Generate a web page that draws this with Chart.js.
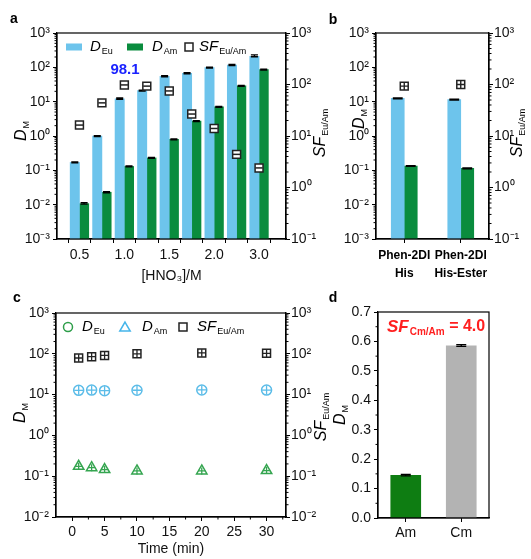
<!DOCTYPE html>
<html lang="en">
<head>
<meta charset="UTF-8">
<title>D_M and SF</title>
<script src="https://cdn.jsdelivr.net/npm/chart.js"></script>
<style>
  body { margin: 0; background: #fff; }
  .wrap { position: relative; width: 531px; height: 559px; }
  canvas { position: absolute; left: 0; top: 0; }
</style>
</head>
<body>
<div class="wrap">
  <canvas id="chartA" width="531" height="559"></canvas>
  <canvas id="chartB" width="531" height="559"></canvas>
  <canvas id="chartC" width="531" height="559"></canvas>
  <canvas id="chartD" width="531" height="559"></canvas>
</div>
<script>
// ---- panel a : D vs [HNO3] ----
const hno3Labels = ['0.5', '0.75', '1.0', '1.25', '1.5', '1.75', '2.0', '2.5', '3.0'];
const dEuA = [0.17, 1.0, 12, 21, 55, 67, 98, 117, 210];
const dEuAErr = [0.006, 0.03, 0.8, 0.8, 2.5, 2.5, 3, 4, 22];
const dAmA = [0.0107, 0.023, 0.13, 0.23, 0.8, 2.7, 7.1, 29, 86];
const dAmAErr = [0.0008, 0.0008, 0.005, 0.008, 0.02, 0.08, 0.2, 1, 3];
const sfA = [16.3, 44, 98.1, 93, 75, 26.7, 14, 4.4, 2.4];
const sfLabelA = '98.1';

// ---- panel b : ligands ----
const ligands = [['Phen-2DI', 'His'], ['Phen-2DI', 'His-Ester']];
const dEuB = [12.5, 11.5];
const dEuBErr = [0.4, 0.3];
const dAmB = [0.134, 0.115];
const dAmBErr = [0.004, 0.003];
const sfB = [93, 100];

// ---- panel c : kinetics ----
const times = [1, 3, 5, 10, 20, 30];
const dEuC = [12.7, 12.9, 12.5, 12.8, 13.0, 12.9];
const dAmC = [0.175, 0.162, 0.145, 0.135, 0.135, 0.137];
const sfC = [79, 85, 91, 100, 105, 103];

// ---- panel d : Am / Cm ----
const elements = ['Am', 'Cm'];
const dD = [0.145, 0.585];
const dDErr = [0.003, 0.004];
const sfCmAm = '4.0';

const BLUE = '#6dc4ec';
const GREEN = '#0a8c3e';
const FF = '"Liberation Sans", Arial, Helvetica, sans-serif';
const f = (size, style) => (style ? style + ' ' : '') + size + 'px ' + FF;

Chart.defaults.font.family = FF;
Chart.defaults.font.size = 14;
Chart.defaults.color = '#111';

const SUP = { '-': '⁻', '0': '⁰', '1': '¹', '2': '²', '3': '³' };
function pow10(v) {
  const e = Math.round(Math.log10(v));
  return '10' + String(e).split('').map(c => SUP[c]).join('');
}
function decades(lo, hi) {
  return s => {
    s.ticks = [];
    for (let e = lo; e <= hi; e++) s.ticks.push({ value: Math.pow(10, e) });
  };
}
function logMinor(lo, hi) {
  const out = [];
  for (let e = lo; e < hi; e++) for (let m = 2; m <= 9; m++) out.push(m * Math.pow(10, e));
  return out;
}
const grid = () => ({ drawOnChartArea: false, drawTicks: true, tickLength: 4, tickColor: '#000', tickWidth: 1 });
const border = { display: true, color: '#000', width: 1.2 };

function logAxis(pos, lo, hi) {
  return {
    type: 'logarithmic', position: pos, min: Math.pow(10, lo), max: Math.pow(10, hi),
    afterBuildTicks: decades(lo, hi),
    afterFit: s => { s.width = 40; },
    ticks: { callback: v => pow10(v), autoSkip: false, padding: pos === 'left' ? 3 : 1 },
    grid: grid(), border
  };
}

// rich text: italic main + subscript
function drawRich(ctx, t) {
  ctx.save();
  ctx.translate(t.x, t.y);
  if (t.rot) ctx.rotate(t.rot);
  let w = 0;
  t.parts.forEach(p => { ctx.font = p[1]; w += ctx.measureText(p[0]).width + (p[3] || 0); });
  let x = t.align === 'left' ? 0 : -w / 2;
  ctx.textBaseline = 'middle';
  ctx.textAlign = 'left';
  ctx.fillStyle = t.color || '#000';
  t.parts.forEach(p => {
    ctx.font = p[1];
    x += p[3] || 0;
    ctx.fillText(p[0], x, p[2] || 0);
    x += ctx.measureText(p[0]).width;
  });
  ctx.restore();
}

function drawMarker(ctx, m) {
  ctx.save();
  ctx.lineWidth = 1.5;
  ctx.strokeStyle = m.color;
  ctx.fillStyle = '#ffffff';
  ctx.beginPath();
  if (m.shape === 'bar') {
    ctx.fillStyle = m.color;
    ctx.fillRect(m.x, m.y - m.h / 2, m.w, m.h);
  } else if (m.shape === 'rect') {
    ctx.rect(m.x - m.r, m.y - m.r, 2 * m.r, 2 * m.r);
    ctx.fill(); ctx.stroke();
  } else if (m.shape === 'circle') {
    ctx.arc(m.x, m.y, m.r, 0, Math.PI * 2);
    ctx.fill(); ctx.stroke();
  } else if (m.shape === 'triangle') {
    ctx.moveTo(m.x, m.y - m.r);
    ctx.lineTo(m.x + m.r * 0.866, m.y + m.r * 0.5);
    ctx.lineTo(m.x - m.r * 0.866, m.y + m.r * 0.5);
    ctx.closePath();
    ctx.fill(); ctx.stroke();
  }
  ctx.restore();
}

const DM = (x, y) => ({ x, y, rot: -Math.PI / 2, parts: [['D', f(16, 'italic')], ['M', f(9), 5, 1]] });
const SFT = (x, y) => ({ x, y, rot: -Math.PI / 2, parts: [['SF', f(16, 'italic')], ['Eu/Am', f(9), 5, 1]] });

// extras per canvas: error bars, minor ticks, legends, labels
const DECOR = {
  chartA: {
    errors: { 2: dEuAErr, 3: dAmAErr },
    minor: [{ axis: 'y', values: logMinor(-3, 3) }, { axis: 'y2', values: logMinor(-1, 3) }],
    markers: [
      { shape: 'bar', x: 66, y: 47, w: 16, h: 7, color: BLUE },
      { shape: 'bar', x: 127, y: 47, w: 16, h: 7, color: GREEN },
      { shape: 'rect', x: 189, y: 47, r: 4, color: '#222' }
    ],
    texts: [
      { x: 14, y: 19, parts: [['a', f(14, 'bold')]] },
      DM(22, 131),
      SFT(321, 133),
      { x: 90, y: 47, align: 'left', parts: [['D', f(15, 'italic')], ['Eu', f(9), 5, 1]] },
      { x: 152, y: 47, align: 'left', parts: [['D', f(15, 'italic')], ['Am', f(9), 5, 1]] },
      { x: 199, y: 47, align: 'left', parts: [['SF', f(15, 'italic')], ['Eu/Am', f(9), 5, 1]] },
      { x: 125, y: 70, color: '#1a22ff', parts: [[sfLabelA, f(15, 'bold')]] }
    ]
  },
  chartB: {
    errors: { 2: dEuBErr, 3: dAmBErr },
    minor: [{ axis: 'y', values: logMinor(-3, 3) }, { axis: 'y2', values: logMinor(-1, 3) }],
    markers: [],
    texts: [
      { x: 333, y: 20, parts: [['b', f(14, 'bold')]] },
      DM(360, 119),
      SFT(518, 133)
    ]
  },
  chartC: {
    errors: {},
    minor: [
      { axis: 'y', values: logMinor(-2, 3) },
      { axis: 'y2', values: logMinor(-2, 3) },
      { axis: 'x', values: [2.5, 7.5, 12.5, 17.5, 22.5, 27.5, 32.5] }
    ],
    markers: [
      { shape: 'circle', x: 68, y: 327, r: 4.5, color: '#2e9e4a' },
      { shape: 'triangle', x: 125, y: 328, r: 6, color: '#45b5ea' },
      { shape: 'rect', x: 183, y: 327, r: 4, color: '#222' }
    ],
    texts: [
      { x: 17, y: 298, parts: [['c', f(14, 'bold')]] },
      DM(21, 413),
      SFT(322, 417),
      { x: 82, y: 327, align: 'left', parts: [['D', f(15, 'italic')], ['Eu', f(9), 5, 1]] },
      { x: 142, y: 327, align: 'left', parts: [['D', f(15, 'italic')], ['Am', f(9), 5, 1]] },
      { x: 197, y: 327, align: 'left', parts: [['SF', f(15, 'italic')], ['Eu/Am', f(9), 5, 1]] }
    ]
  },
  chartD: {
    errors: { 0: dDErr },
    minor: [{ axis: 'y', values: [0.05, 0.15, 0.25, 0.35, 0.45, 0.55, 0.65] }],
    markers: [],
    texts: [
      { x: 333, y: 298, parts: [['d', f(14, 'bold')]] },
      DM(341, 415),
      { x: 387, y: 327, align: 'left', color: '#ff1f1f',
        parts: [['SF', f(17, 'italic bold')], ['Cm/Am', f(10, 'bold'), 5, 1], [' = ' + sfCmAm, f(16, 'bold')]] }
    ]
  }
};

const decor = {
  id: 'decor',
  afterDatasetDraw(chart, args) {
    const dec = DECOR[chart.canvas.id];
    const errs = dec.errors[args.index];
    if (!errs) return;
    const { ctx } = chart;
    const ys = chart.scales[args.meta.yAxisID];
    const ds = chart.data.datasets[args.index];
    ctx.save();
    ctx.strokeStyle = '#000';
    ctx.lineWidth = 1.3;
    args.meta.data.forEach((bar, i) => {
      const d = ds.data[i];
      const v = typeof d === 'object' ? d.y : d;
      const top = ys.getPixelForValue(v + errs[i]);
      const half = Math.min(bar.width * 0.38, 5);
      ctx.beginPath();
      ctx.moveTo(bar.x, bar.y);
      ctx.lineTo(bar.x, top);
      ctx.moveTo(bar.x - half, top);
      ctx.lineTo(bar.x + half, top);
      ctx.moveTo(bar.x - half, bar.y + 0.5);
      ctx.lineTo(bar.x + half, bar.y + 0.5);
      ctx.stroke();
    });
    ctx.restore();
  },
  afterDraw(chart) {
    const dec = DECOR[chart.canvas.id];
    const { ctx, chartArea: ca } = chart;
    ctx.save();
    ctx.strokeStyle = '#000';
    ctx.lineWidth = 1.2;
    ctx.strokeRect(ca.left, ca.top, ca.right - ca.left, ca.bottom - ca.top);
    ctx.lineWidth = 1;
    dec.minor.forEach(m => {
      const s = chart.scales[m.axis];
      m.values.forEach(v => {
        const p = s.getPixelForValue(v);
        ctx.beginPath();
        if (s.isHorizontal()) { ctx.moveTo(p, ca.bottom); ctx.lineTo(p, ca.bottom + 2.5); }
        else if (s.position === 'left') { ctx.moveTo(ca.left, p); ctx.lineTo(ca.left - 2.5, p); }
        else { ctx.moveTo(ca.right, p); ctx.lineTo(ca.right + 2.5, p); }
        ctx.stroke();
      });
    });
    ctx.restore();
    dec.markers.forEach(m => drawMarker(ctx, m));
    dec.texts.forEach(t => drawRich(ctx, t));
  }
};

const noLegend = { legend: { display: false }, tooltip: { enabled: false } };
const base = { responsive: false, animation: false, devicePixelRatio: 1, events: [] };
const xy = arr => arr.map((v, i) => ({ x: i, y: v }));

// ================= panel a =================
new Chart(document.getElementById('chartA'), {
  type: 'bar',
  data: {
    datasets: [
      { type: 'line', data: xy(sfA), yAxisID: 'y2', showLine: false, pointStyle: 'rect', pointRadius: 5.6,
        pointBorderWidth: 1.5, pointBorderColor: '#222', pointBackgroundColor: '#fff', order: 0 },
      { type: 'line', data: xy(sfA), yAxisID: 'y2', showLine: false, pointStyle: 'line', pointRadius: 3.6,
        pointBorderWidth: 1.5, pointBorderColor: '#222', order: -1 },
      { data: xy(dEuA), backgroundColor: BLUE, barThickness: 9.3, yAxisID: 'y', order: 2 },
      { data: xy(dAmA), backgroundColor: GREEN, barThickness: 9.3, yAxisID: 'y', order: 2 }
    ]
  },
  options: {
    ...base,
    layout: { padding: { left: 17, right: 205, top: 33, bottom: 274 } },
    scales: {
      x: {
        type: 'linear', min: -1, max: 9.2, offset: false,
        afterBuildTicks: s => { s.ticks = hno3Labels.map((_, i) => ({ value: i })); },
        afterFit: s => { s.height = 46; },
        ticks: { callback: v => (v % 2 === 0 ? hno3Labels[v] : ''), autoSkip: false, maxRotation: 0, padding: 4 },
        title: { display: true, text: '[HNO₃]/M', padding: 0, font: { size: 14 }, color: '#111' },
        grid: grid(), border
      },
      y: logAxis('left', -3, 3),
      y2: logAxis('right', -1, 3)
    },
    plugins: noLegend
  },
  plugins: [decor]
});

// ================= panel b =================
new Chart(document.getElementById('chartB'), {
  type: 'bar',
  data: {
    labels: ligands,
    datasets: [
      { type: 'line', data: sfB, yAxisID: 'y2', showLine: false, pointStyle: 'rect', pointRadius: 5.6,
        pointBorderWidth: 1.5, pointBorderColor: '#222', pointBackgroundColor: '#fff', order: 0 },
      { type: 'line', data: sfB, yAxisID: 'y2', showLine: false, pointStyle: 'cross', pointRadius: 3.8,
        pointBorderWidth: 1.4, pointBorderColor: '#222', order: -1 },
      { data: dEuB, backgroundColor: BLUE, barThickness: 13, yAxisID: 'y', order: 2 },
      { data: dAmB, backgroundColor: GREEN, barThickness: 13, yAxisID: 'y', order: 2 }
    ]
  },
  options: {
    ...base,
    layout: { padding: { left: 336, right: 2, top: 33, bottom: 274 } },
    scales: {
      x: {
        type: 'category', offset: true,
        afterFit: s => { s.height = 46; },
        ticks: { font: { size: 12, weight: 'bold', lineHeight: 1.5 }, color: '#000',
                 maxRotation: 0, autoSkip: false, padding: 4 },
        grid: { ...grid(), offset: false }, border
      },
      y: logAxis('left', -3, 3),
      y2: logAxis('right', -1, 3)
    },
    plugins: noLegend
  },
  plugins: [decor]
});

// ================= panel c =================
const pts = arr => arr.map((v, i) => ({ x: times[i], y: v }));
const C_BLUE = '#5bbce8';
const C_GREEN = '#35a550';
new Chart(document.getElementById('chartC'), {
  type: 'scatter',
  data: {
    datasets: [
      { data: pts(sfC), yAxisID: 'y2', pointStyle: 'rect', pointRadius: 5.6, pointBorderWidth: 1.5,
        pointBorderColor: '#222', pointBackgroundColor: '#fff', order: 1 },
      { data: pts(sfC), yAxisID: 'y2', pointStyle: 'cross', pointRadius: 3.8, pointBorderWidth: 1.3,
        pointBorderColor: '#222', order: 0 },
      { data: pts(dEuC), yAxisID: 'y', pointStyle: 'circle', pointRadius: 5, pointBorderWidth: 1.5,
        pointBorderColor: C_BLUE, pointBackgroundColor: '#fff', order: 1 },
      { data: pts(dEuC), yAxisID: 'y', pointStyle: 'cross', pointRadius: 4.5, pointBorderWidth: 1.3,
        pointBorderColor: C_BLUE, order: 0 },
      { data: pts(dAmC), yAxisID: 'y', pointStyle: 'triangle', pointRadius: 6, pointBorderWidth: 1.5,
        pointBorderColor: C_GREEN, pointBackgroundColor: '#fff', order: 1 },
      { data: pts(dAmC), yAxisID: 'y', pointStyle: 'cross', pointRadius: 3.5, pointBorderWidth: 1.3,
        pointBorderColor: C_GREEN, order: 0 }
    ]
  },
  options: {
    ...base,
    layout: { padding: { left: 16, right: 205, top: 313, bottom: 1 } },
    scales: {
      x: {
        type: 'linear', min: -2.5, max: 33,
        afterBuildTicks: s => { s.ticks = [0, 5, 10, 15, 20, 25, 30].map(v => ({ value: v })); },
        afterFit: s => { s.height = 41; },
        ticks: { autoSkip: false, maxRotation: 0, padding: 3 },
        title: { display: true, text: 'Time (min)', padding: 0, font: { size: 14 }, color: '#111' },
        grid: grid(), border
      },
      y: logAxis('left', -2, 3),
      y2: logAxis('right', -2, 3)
    },
    plugins: noLegend
  },
  plugins: [decor]
});

// ================= panel d =================
new Chart(document.getElementById('chartD'), {
  type: 'bar',
  data: {
    labels: elements,
    datasets: [
      { data: dD, backgroundColor: ['#0e7d12', '#b3b3b3'], barThickness: 30 }
    ]
  },
  options: {
    ...base,
    layout: { padding: { left: 338, right: 42, top: 312, bottom: 11 } },
    scales: {
      x: {
        type: 'category', offset: true,
        afterFit: s => { s.height = 30; },
        ticks: { maxRotation: 0, autoSkip: false, padding: 3 },
        grid: { ...grid(), offset: false }, border
      },
      y: {
        type: 'linear', position: 'left', min: 0, max: 0.7,
        afterFit: s => { s.width = 40; },
        ticks: { stepSize: 0.1, callback: v => v.toFixed(1), padding: 3 },
        grid: grid(), border
      }
    },
    plugins: noLegend
  },
  plugins: [decor]
});
</script>
</body>
</html>
